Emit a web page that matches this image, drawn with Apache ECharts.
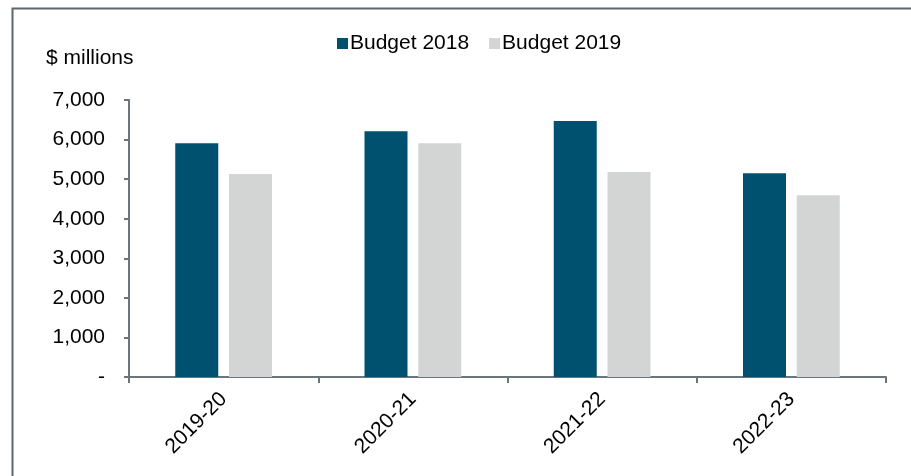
<!DOCTYPE html>
<html>
<head>
<meta charset="utf-8">
<style>
  html, body { margin: 0; padding: 0; background: #ffffff; }
  #chart { width: 911px; height: 476px; }
</style>
<script src="https://cdn.jsdelivr.net/npm/echarts@6/dist/echarts.min.js"></script>
</head>
<body>
<div id="chart"></div>
<script>
// Financial years on the category axis
const years = ['2019-20', '2020-21', '2021-22', '2022-23'];
// Estimates in $ millions from each budget
const budget2018 = [5910, 6210, 6470, 5150];
const budget2019 = [5130, 5910, 5180, 4590];
// Value axis ticks
const yMin = 0;
const yMax = 7000;
const yStep = 1000;

const FONT = 'Liberation Sans, Arial, sans-serif';
const FONT_SIZE = 21;
const AXIS_COLOR = '#6b757d';

const chart = echarts.init(document.getElementById('chart'), null, { renderer: 'canvas' });

chart.setOption({
  animation: false,
  backgroundColor: '#ffffff',
  textStyle: { fontFamily: FONT },
  graphic: [
    {
      type: 'rect',
      shape: { x: 12.5, y: 8.5, width: 1000, height: 1000 },
      style: { fill: 'none', stroke: '#5c666d', lineWidth: 2 },
      silent: true
    }
  ],
  title: {
    text: '$ millions',
    left: 46,
    top: 48,
    padding: 0,
    textStyle: { fontFamily: FONT, fontSize: FONT_SIZE, fontWeight: 'normal', color: '#000000' }
  },
  legend: {
    top: 33,
    left: 337,
    padding: 0,
    itemWidth: 11,
    itemHeight: 11,
    itemGap: 20,
    icon: 'rect',
    textStyle: { fontFamily: FONT, fontSize: FONT_SIZE, color: '#000000', padding: [0, 0, 0, -3] },
    data: ['Budget 2018', 'Budget 2019']
  },
  grid: { left: 129, top: 100, right: 25, bottom: 99, containLabel: false },
  xAxis: {
    type: 'category',
    data: years,
    axisLine: { show: true, lineStyle: { color: AXIS_COLOR, width: 2 } },
    axisTick: { show: true, length: 6, lineStyle: { color: AXIS_COLOR, width: 2 } },
    axisLabel: {
      rotate: 45,
      margin: 19,
      fontFamily: FONT,
      fontSize: FONT_SIZE,
      color: '#000000'
    },
    splitLine: { show: false }
  },
  yAxis: {
    type: 'value',
    min: yMin,
    max: yMax,
    interval: yStep,
    axisLine: { show: true, lineStyle: { color: AXIS_COLOR, width: 2 } },
    axisTick: { show: true, length: 5, lineStyle: { color: AXIS_COLOR, width: 2 } },
    axisLabel: {
      margin: 24,
      fontFamily: FONT,
      fontSize: FONT_SIZE,
      color: '#000000',
      formatter: function (v) { return v === 0 ? '-' : v.toLocaleString('en-US'); }
    },
    splitLine: { show: false }
  },
  series: [
    {
      name: 'Budget 2018',
      type: 'bar',
      data: budget2018,
      barWidth: 43,
      barGap: '25%',
      itemStyle: { color: '#00506f' }
    },
    {
      name: 'Budget 2019',
      type: 'bar',
      data: budget2019,
      barWidth: 43,
      itemStyle: { color: '#d3d4d4' }
    }
  ]
});
</script>
</body>
</html>
